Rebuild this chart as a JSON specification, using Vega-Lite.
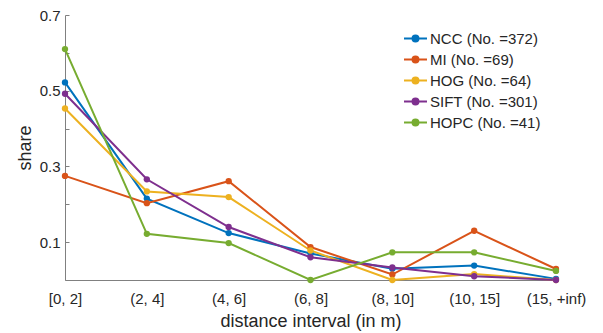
{
  "$schema": "https://vega.github.io/schema/vega-lite/v6.json",
  "width": 491,
  "height": 265,
  "autosize": "none",
  "padding": {"left": 65, "top": 15, "right": 47, "bottom": 53},
  "background": "white",
  "config": {
    "view": {"stroke": null},
    "font": "Liberation Sans",
    "axis": {"domainColor": "#808080", "tickColor": "#808080", "labelColor": "#262626", "titleColor": "#262626", "labelFontSize": 15, "titleFontSize": 18, "titleFontWeight": "normal", "grid": false}
  },
  "data": {"values": [
    {"interval": "[0, 2]", "method": "NCC (No. =372)", "share": 0.522},
    {"interval": "(2, 4]", "method": "NCC (No. =372)", "share": 0.215},
    {"interval": "(4, 6]", "method": "NCC (No. =372)", "share": 0.124},
    {"interval": "(6, 8]", "method": "NCC (No. =372)", "share": 0.070},
    {"interval": "(8, 10]", "method": "NCC (No. =372)", "share": 0.030},
    {"interval": "(10, 15]", "method": "NCC (No. =372)", "share": 0.038},
    {"interval": "(15, +inf)", "method": "NCC (No. =372)", "share": 0.003},
    {"interval": "[0, 2]", "method": "MI (No. =69)", "share": 0.275},
    {"interval": "(2, 4]", "method": "MI (No. =69)", "share": 0.203},
    {"interval": "(4, 6]", "method": "MI (No. =69)", "share": 0.261},
    {"interval": "(6, 8]", "method": "MI (No. =69)", "share": 0.087},
    {"interval": "(8, 10]", "method": "MI (No. =69)", "share": 0.0145},
    {"interval": "(10, 15]", "method": "MI (No. =69)", "share": 0.130},
    {"interval": "(15, +inf)", "method": "MI (No. =69)", "share": 0.029},
    {"interval": "[0, 2]", "method": "HOG (No. =64)", "share": 0.453},
    {"interval": "(2, 4]", "method": "HOG (No. =64)", "share": 0.234},
    {"interval": "(4, 6]", "method": "HOG (No. =64)", "share": 0.219},
    {"interval": "(6, 8]", "method": "HOG (No. =64)", "share": 0.078},
    {"interval": "(8, 10]", "method": "HOG (No. =64)", "share": 0.0},
    {"interval": "(10, 15]", "method": "HOG (No. =64)", "share": 0.0156},
    {"interval": "(15, +inf)", "method": "HOG (No. =64)", "share": 0.0},
    {"interval": "[0, 2]", "method": "SIFT (No. =301)", "share": 0.492},
    {"interval": "(2, 4]", "method": "SIFT (No. =301)", "share": 0.266},
    {"interval": "(4, 6]", "method": "SIFT (No. =301)", "share": 0.140},
    {"interval": "(6, 8]", "method": "SIFT (No. =301)", "share": 0.060},
    {"interval": "(8, 10]", "method": "SIFT (No. =301)", "share": 0.033},
    {"interval": "(10, 15]", "method": "SIFT (No. =301)", "share": 0.010},
    {"interval": "(15, +inf)", "method": "SIFT (No. =301)", "share": 0.0},
    {"interval": "[0, 2]", "method": "HOPC (No. =41)", "share": 0.610},
    {"interval": "(2, 4]", "method": "HOPC (No. =41)", "share": 0.122},
    {"interval": "(4, 6]", "method": "HOPC (No. =41)", "share": 0.0976},
    {"interval": "(6, 8]", "method": "HOPC (No. =41)", "share": 0.0},
    {"interval": "(8, 10]", "method": "HOPC (No. =41)", "share": 0.073},
    {"interval": "(10, 15]", "method": "HOPC (No. =41)", "share": 0.073},
    {"interval": "(15, +inf)", "method": "HOPC (No. =41)", "share": 0.024}
  ]},
  "encoding": {
    "x": {"field": "interval", "type": "ordinal",
      "scale": {"type": "point", "padding": 0, "domain": ["[0, 2]", "(2, 4]", "(4, 6]", "(6, 8]", "(8, 10]", "(10, 15]", "(15, +inf)"]},
      "axis": {"title": "distance interval (in m)", "labelAngle": 0, "ticks": false, "labelPadding": 11, "titlePadding": 6}},
    "y": {"field": "share", "type": "quantitative",
      "scale": {"domain": [0, 0.7], "nice": false, "zero": true},
      "axis": {"title": "share", "values": [0, 0.1, 0.2, 0.3, 0.4, 0.5, 0.6, 0.7], "labelExpr": "round(datum.value*10) % 2 == 1 ? format(datum.value, '.1f') : ''", "tickSize": -4, "labelPadding": 9, "titlePadding": 5}},
    "color": {"field": "method", "type": "nominal",
      "scale": {"domain": ["NCC (No. =372)", "MI (No. =69)", "HOG (No. =64)", "SIFT (No. =301)", "HOPC (No. =41)"], "range": ["#0072BD", "#D95319", "#EDB120", "#7E2F8E", "#77AC30"]},
      "legend": {"title": null, "orient": "none", "legendX": 343, "legendY": 16, "labelFontSize": 15, "labelColor": "#262626", "rowPadding": 5, "symbolType": "M-2,0H2M-0.52,0A0.52,0.52,0,1,1,0.52,0A0.52,0.52,0,1,1,-0.52,0Z", "symbolSize": 132, "symbolStrokeWidth": 2, "labelOffset": 7}}
  },
  "layer": [
    {"mark": {"type": "line", "strokeWidth": 2}},
    {"mark": {"type": "point", "filled": true, "size": 40, "opacity": 1}}
  ]
}
